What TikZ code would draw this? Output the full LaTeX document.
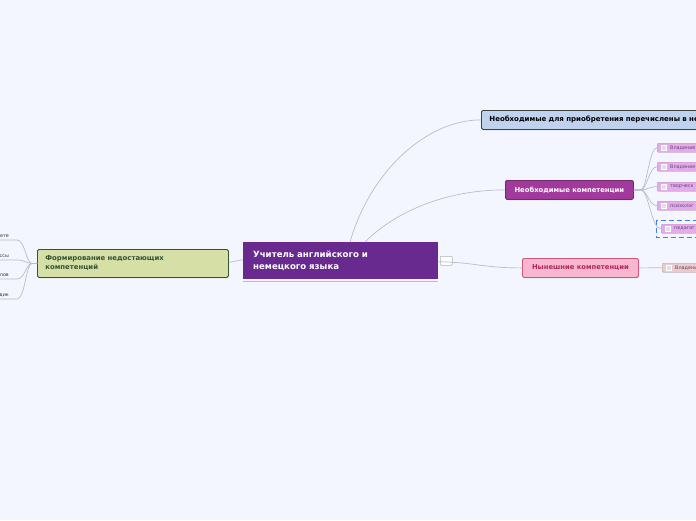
\documentclass[tikz,border=0pt]{standalone}
\usepackage{fontspec}
\setmainfont{DejaVu Sans}
\usetikzlibrary{shadows}

\definecolor{bgblue}{RGB}{243,246,255}
\definecolor{linkgray}{RGB}{186,188,204}
\definecolor{centralpurple}{RGB}{104,42,142}
\definecolor{needblue}{RGB}{191,211,238}
\definecolor{needmagenta}{RGB}{162,58,158}
\definecolor{nowpink}{RGB}{248,183,206}
\definecolor{nowborder}{RGB}{206,88,124}
\definecolor{nowtext}{RGB}{176,38,92}
\definecolor{formolive}{RGB}{213,223,166}
\definecolor{formgreen}{RGB}{52,84,52}
\definecolor{subviolet}{RGB}{226,172,232}
\definecolor{subborder}{RGB}{204,146,214}
\definecolor{subtext}{RGB}{104,66,116}
\definecolor{nowsub}{RGB}{232,204,208}
\definecolor{selectblue}{RGB}{66,128,228}

\tikzset{
  topic/.style={draw, rounded corners=1.5pt, line width=0.8pt, inner ysep=0pt,
    minimum height=19pt, font=\bfseries\fontsize{6.8}{8.5}\selectfont,
    drop shadow={shadow xshift=0.8pt, shadow yshift=-1pt, opacity=0.25}},
  subtopic/.style={draw=subborder, fill=subviolet, rounded corners=1pt, line width=0.4pt,
    inner xsep=0pt, inner ysep=0pt, minimum height=9pt, minimum width=60pt,
    text width=60pt, align=left, text=subtext, font=\fontsize{4.9}{5}\selectfont,
    drop shadow={shadow xshift=0.5pt, shadow yshift=-0.6pt, opacity=0.2}},
  leaf/.style={inner xsep=8pt, inner ysep=1.8pt, text=black!80, font=\fontsize{4.8}{5}\selectfont},
  chk/.style={fill=white!88!black, draw=white, line width=0.3pt},
  link/.style={draw=linkgray, line width=0.7pt}
}

\begin{document}
\begin{tikzpicture}[x=1pt,y=-1pt]
    \useasboundingbox (0,0) rectangle (696,520);
    \fill[bgblue] (0,0) rectangle (696,520);
    \clip (0,0) rectangle (696,520);

    % Central topic
    \node[fill=centralpurple, text=white, anchor=north west, inner xsep=10pt, inner ysep=0pt,
      minimum height=37pt, text width=175pt, align=left,
      font=\bfseries\fontsize{8.6}{12}\selectfont] (teacher) at (243,242)
      {Учитель английского и\\немецкого языка};
    \draw[link, line width=1pt] ([yshift=-1.6pt]teacher.south west) -- ([yshift=-1.6pt]teacher.south east);
    \node[draw=white!70!black, fill=white, rounded corners=1pt, line width=0.5pt,
      minimum width=12pt, minimum height=9pt, inner sep=0pt, anchor=north west] (fold) at (440,256) {};

    % Main topics
    \node[topic, fill=needblue, draw=black!75, anchor=north west, inner xsep=8pt,
      text width=260pt, align=left, font=\bfseries\fontsize{7}{8.5}\selectfont] (needlist) at (481,110)
      {Необходимые для приобретения перечислены в не};
    \node[topic, fill=needmagenta, draw=needmagenta!70!black, text=white, anchor=north west,
      minimum width=128pt, inner xsep=0pt] (needed) at (505,180) {Необходимые компетенции};
    \node[topic, fill=nowpink, draw=nowborder, text=nowtext, anchor=north west,
      minimum width=116pt, inner xsep=0pt] (current) at (522,258) {Нынешние компетенции};
    \node[topic, fill=formolive, draw=formgreen, text=formgreen, anchor=north west,
      inner xsep=8pt, minimum height=28pt, text width=175pt, align=left,
      font=\bfseries\fontsize{6.9}{9}\selectfont] (forming) at (37,249)
      {Формирование недостающих\\компетенций};

    % Needed competences
    \node[subtopic, anchor=north west] (own1) at (657,143) {\hspace*{13pt}Владение};
    \node[subtopic, anchor=north west] (own2) at (657,162) {\hspace*{13pt}Владение};
    \node[subtopic, anchor=north west] (creative) at (657,182) {\hspace*{13pt}творческ};
    \node[subtopic, anchor=north west] (psych) at (657,201) {\hspace*{13pt}психолог};
    \node[subtopic, anchor=north west] (pedag) at (661,224) {\hspace*{13pt}педагог};
    \draw[selectblue, line width=1pt, dash pattern=on 5pt off 3pt]
      ([xshift=-5pt,yshift=4pt]pedag.north west) rectangle ([xshift=10pt,yshift=-4pt]pedag.south east);

    % Current competences
    \node[subtopic, fill=nowsub, draw=nowsub!80!black, text=nowborder!60!black, anchor=north west]
      (currown) at (662,263) {\hspace*{13pt}Владени};

    % Check boxes
    \draw[chk] ([xshift=4pt,yshift=2.6pt]own1.west) rectangle ++(5.2,5.2);
    \draw[chk] ([xshift=4pt,yshift=2.6pt]own2.west) rectangle ++(5.2,5.2);
    \draw[chk] ([xshift=4pt,yshift=2.6pt]creative.west) rectangle ++(5.2,5.2);
    \draw[chk] ([xshift=4pt,yshift=2.6pt]psych.west) rectangle ++(5.2,5.2);
    \draw[chk] ([xshift=4pt,yshift=2.6pt]pedag.west) rectangle ++(5.2,5.2);
    \draw[chk] ([xshift=4pt,yshift=2.6pt]currown.west) rectangle ++(5.2,5.2);

    % Leaves on the left
    \node[leaf, anchor=south east] (leafa) at (17,240) {ете};
    \node[leaf, anchor=south east] (leafb) at (17,260) {ссы};
    \node[leaf, anchor=south east] (leafc) at (17,279) {лов};
    \node[leaf, anchor=south east] (leafd) at (17,299) {дик};

    % Connectors
    \draw[link] ([xshift=107pt]teacher.north west) .. controls +(20,-70) and +(-55,0) .. (needlist.west);
    \draw[link] ([xshift=122pt]teacher.north west) .. controls +(30,-30) and +(-60,0) .. (needed.west);
    \draw[link] ([yshift=-1pt]teacher.east) .. controls +(40,1) and +(-40,0) .. (current.west);
    \draw[link] ([yshift=1pt]teacher.west) -- ([yshift=1pt]forming.east);

    \draw[link] (needed.east) -- ++(7,0) .. controls +(6,0) and +(-8,0) .. (own1.west);
    \draw[link] (needed.east) -- ++(7,0) .. controls +(6,0) and +(-8,0) .. (own2.west);
    \draw[link] (needed.east) -- ++(7,0) .. controls +(6,0) and +(-8,0) .. (creative.west);
    \draw[link] (needed.east) -- ++(7,0) .. controls +(6,0) and +(-8,0) .. (psych.west);
    \draw[link] (needed.east) -- ++(7,0) .. controls +(8,0) and +(-10,0) .. (pedag.west);
    \draw[link] (current.east) .. controls +(14,0) and +(-12,0) .. (currown.west);

    \draw[link] (forming.west) -- ++(-5,0) .. controls +(-6,0) and +(8,0) .. (leafa.south east) -- (leafa.south west);
    \draw[link] (forming.west) -- ++(-5,0) .. controls +(-6,0) and +(8,0) .. (leafb.south east) -- (leafb.south west);
    \draw[link] (forming.west) -- ++(-5,0) .. controls +(-6,0) and +(8,0) .. (leafc.south east) -- (leafc.south west);
    \draw[link] (forming.west) -- ++(-5,0) .. controls +(-6,0) and +(8,0) .. (leafd.south east) -- (leafd.south west);
\end{tikzpicture}
\end{document}
